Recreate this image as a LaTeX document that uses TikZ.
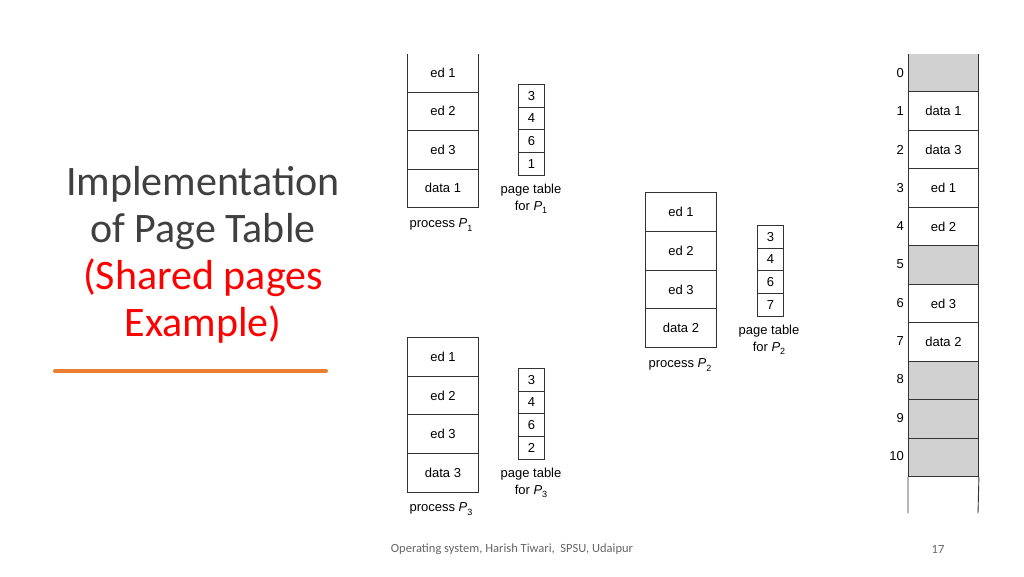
\documentclass[tikz,border=0pt]{standalone}
\usepackage{fontspec}
\setmainfont{Carlito}
\newfontfamily\hv{Liberation Sans}
\newcommand{\Pn}[1]{\textit{P}\raisebox{-3.5pt}{\fontsize{9}{9}\selectfont #1}}
\begin{document}
\begin{tikzpicture}[x=1pt,y=-1pt,
  cell/.style={draw=black!80,line width=0.9pt,minimum width=71pt,minimum height=38.7pt,inner sep=0pt,font=\hv\fontsize{13}{13}\selectfont,anchor=north west},
  pcell/.style={draw=black!80,line width=0.9pt,minimum width=26pt,minimum height=22.7pt,inner sep=0pt,font=\hv\fontsize{13}{13}\selectfont,anchor=north west},
  mcell/.style={draw=black!80,line width=0.9pt,minimum width=70pt,minimum height=38.45pt,inner sep=0pt,font=\hv\fontsize{13}{13}\selectfont,anchor=north west},
  lbl/.style={font=\hv\fontsize{13}{17}\selectfont,align=center,inner sep=0pt},
  num/.style={font=\hv\fontsize{13}{13}\selectfont,anchor=east,inner sep=0pt}]
\useasboundingbox (0,0) rectangle (1024,576);
\fill[white] (0,0) rectangle (1024,576);
% title
\node[font=\fontsize{42}{47}\selectfont,align=center,text=black!75] (title) at (203,255) {Implementation\\of Page Table\\\textcolor[HTML]{FF0000}{(Shared pages}\\\textcolor[HTML]{FF0000}{Example)}};
\draw[color={rgb,255:red,237;green,125;blue,49},line width=4pt,line cap=round] (55,371) -- (326,371);
% process P1
\foreach \t [count=\i from 0] in {ed 1,ed 2,ed 3,data 1}
  \node[cell] (pa\i) at (407,53+38.5*\i) {\t};
\fill[white] (406,51) rectangle (479,53.5);
\foreach \t [count=\i from 0] in {3,4,6,1}
  \node[pcell] (ta\i) at (518,84+22.7*\i) {\t};
\node[lbl] (la) at (531,199) {page table\\for \Pn{1}};
\node[lbl] (lpa) at (441,225) {process \Pn{1}};
% process P2
\foreach \t [count=\i from 0] in {ed 1,ed 2,ed 3,data 2}
  \node[cell] (pb\i) at (645,192+38.8*\i) {\t};
\foreach \t [count=\i from 0] in {3,4,6,7}
  \node[pcell] (tb\i) at (757,225+22.7*\i) {\t};
\node[lbl] (lb) at (769,340) {page table\\for \Pn{2}};
\node[lbl] (lpb) at (680,365) {process \Pn{2}};
% process P3
\foreach \t [count=\i from 0] in {ed 1,ed 2,ed 3,data 3}
  \node[cell] (pc\i) at (407,337+38.6*\i) {\t};
\foreach \t [count=\i from 0] in {3,4,6,2}
  \node[pcell] (tc\i) at (518,368+22.7*\i) {\t};
\node[lbl] (lc) at (531,483) {page table\\for \Pn{3}};
\node[lbl] (lpc) at (441,509) {process \Pn{3}};
% memory
\foreach \t/\g [count=\i from 0] in {{}/1,data 1/0,data 3/0,ed 1/0,ed 2/0,{}/1,ed 3/0,data 2/0,{}/1,{}/1,{}/1}{
  \ifnum\g=1
    \node[mcell,fill=black!18] (m\i) at (908,53+38.45*\i) {\t};
  \else
    \node[mcell] (m\i) at (908,53+38.45*\i) {\t};
  \fi
  \node[num] (n\i) at (904,73+38.3*\i) {\i};
}
\fill[white] (906,51) rectangle (980,53.5);
\draw[black!80,line width=0.9pt] (m10.south west) -- (908,513) (m10.south east) -- (978,513);
% footer
\node[font=\fontsize{12.5}{12.5}\selectfont,text=black!60] (foot) at (512,549) {Operating system, Harish Tiwari,\ \ SPSU, Udaipur};
\node[font=\fontsize{12.5}{12.5}\selectfont,text=black!60] (pg) at (938,549) {17};
\end{tikzpicture}
\end{document}
